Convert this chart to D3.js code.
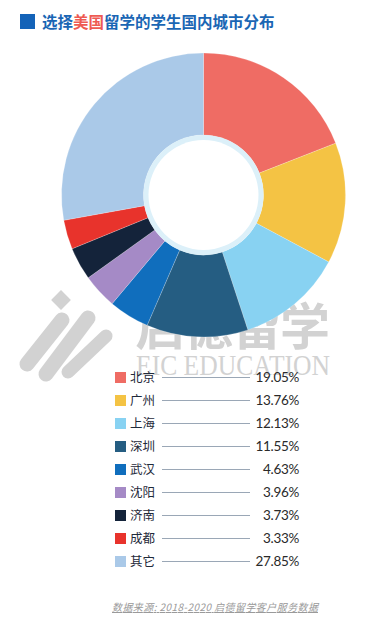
<!DOCTYPE html>
<html>
<head>
<meta charset="utf-8">
<script src="https://cdn.jsdelivr.net/npm/d3@7"></script>
<style>
  body { margin: 0; background: #fff; }
  svg { display: block; font-family: "Noto Sans CJK SC", "Noto Sans", sans-serif; }
</style>
</head>
<body>
<div class="content"></div>
<script>
// DATA
var cities = ['北京', '广州', '上海', '深圳', '武汉', '沈阳', '济南', '成都', '其它'];
var shares = [19.05, 13.76, 12.13, 11.55, 4.63, 3.96, 3.73, 3.33, 27.85];
var colors = ['#ef6c64', '#f4c344', '#88d2f2', '#255d82', '#106ebd', '#a58ac6', '#14233a', '#e8332c', '#aac9e8'];

// VARIABLES
var w = 392,
    h = 624,
    cx = 203.5,
    cy = 195,
    outer = 142,
    inner = 60;

var data = cities.map(function(c, i) { return { city: c, value: shares[i], color: colors[i] }; });

// PREPARE SVG
var svg = d3.select('.content').append('svg')
    .attr('width', w)
    .attr('height', h);

// TITLE
svg.append('rect')
    .attr('x', 20).attr('y', 14)
    .attr('width', 15).attr('height', 15)
    .attr('fill', '#1463b8');

var title = svg.append('text')
    .attr('x', 42).attr('y', 28)
    .attr('font-size', 15.5)
    .attr('font-weight', 'bold')
    .attr('fill', '#1a66b4');
title.append('tspan').text('选择');
title.append('tspan').attr('fill', '#ee5a52').text('美国');
title.append('tspan').text('留学的学生国内城市分布');

// WATERMARK (logo)
var wm = svg.append('g').attr('fill', '#d2d2d2').attr('stroke', '#d2d2d2');
wm.append('rect')
    .attr('x', -7).attr('y', -7).attr('width', 14).attr('height', 14)
    .attr('stroke', 'none')
    .attr('transform', 'translate(61,300) rotate(45)');
[[62, 320, 27, 364, 15], [88, 318, 46, 374, 15], [106, 336, 68, 372, 13]].forEach(function(s) {
    wm.append('line')
        .attr('x1', s[0]).attr('y1', s[1])
        .attr('x2', s[2]).attr('y2', s[3])
        .attr('stroke-width', s[4])
        .attr('stroke-linecap', 'round');
});
wm.append('text')
    .attr('x', 135).attr('y', 345)
    .attr('font-size', 50)
    .attr('font-weight', 'bold')
    .attr('stroke', 'none')
    .attr('textLength', 195)
    .text('启德留学');
wm.append('text')
    .attr('x', 136).attr('y', 375)
    .attr('font-size', 29)
    .attr('stroke', 'none')
    .attr('font-family', '"Liberation Serif", serif')
    .attr('textLength', 194)
    .attr('lengthAdjust', 'spacingAndGlyphs')
    .text('EIC EDUCATION');

// PIE
var pie = d3.pie()
    .sort(null)
    .value(function(d) { return d.value; });

var arc = d3.arc()
    .innerRadius(inner)
    .outerRadius(outer);

var g = svg.append('g')
    .attr('transform', 'translate(' + cx + ',' + cy + ')');

g.selectAll('.slice')
    .data(pie(data))
    .enter()
    .append('path')
    .attr('class', 'slice')
    .attr('d', arc)
    .attr('fill', function(d) { return d.data.color; })
    .attr('stroke', '#ffffff')
    .attr('stroke-opacity', 0.4)
    .attr('stroke-width', 0.5);

g.append('circle').attr('r', inner).attr('fill', '#dcf0f9');
g.append('circle').attr('r', inner - 5).attr('fill', '#ffffff');

// LEGEND
var y = d3.scaleBand()
    .domain(cities)
    .range([366, 573]);

var rows = svg.selectAll('.legend-row')
    .data(data)
    .enter()
    .append('g')
    .attr('class', 'legend-row')
    .attr('transform', function(d) { return 'translate(0,' + (y(d.city) + y.bandwidth() / 2) + ')'; });

rows.append('rect')
    .attr('x', 115).attr('y', -5.5)
    .attr('width', 11).attr('height', 11)
    .attr('fill', function(d) { return d.color; });

rows.append('text')
    .attr('x', 130).attr('dy', '0.36em')
    .attr('font-size', 12.5)
    .attr('fill', '#1f2a3a')
    .text(function(d) { return d.city; });

rows.append('line')
    .attr('x1', 162).attr('x2', 250)
    .attr('stroke', '#9aa7b6')
    .attr('stroke-width', 1);

rows.append('text')
    .attr('x', 299).attr('dy', '0.36em')
    .attr('text-anchor', 'end')
    .attr('font-family', 'Lato, "Open Sans", sans-serif')
    .attr('font-size', 13.5)
    .attr('letter-spacing', -0.3)
    .attr('fill', '#2a2a2a')
    .text(function(d) { return d.value.toFixed(2) + '%'; });

// SOURCE
svg.append('text')
    .attr('x', 112).attr('y', 611)
    .attr('font-size', 10)
    .attr('font-style', 'italic')
    .attr('fill', '#9a9a9a')
    .attr('text-decoration', 'underline')
    .attr('textLength', 206)
    .text('数据来源: 2018-2020 启德留学客户服务数据');
</script>
</body>
</html>
